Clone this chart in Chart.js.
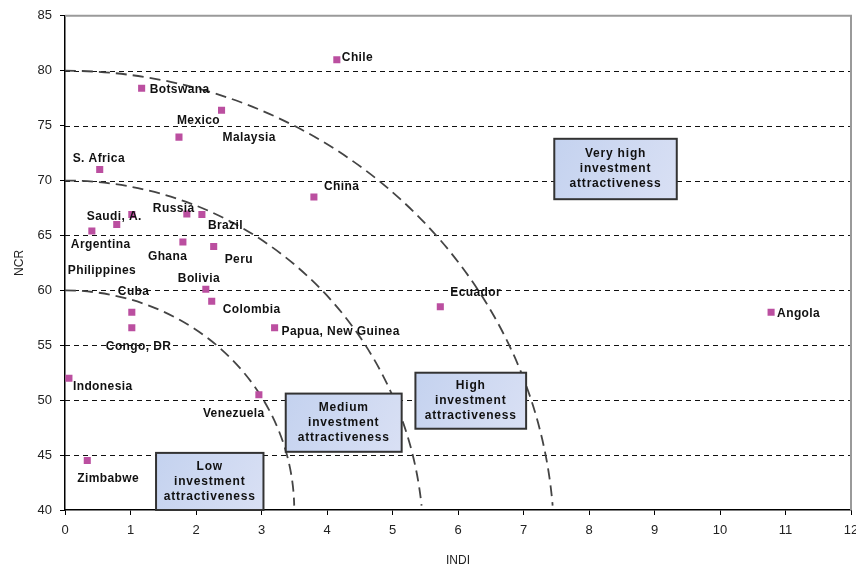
<!DOCTYPE html>
<html>
<head>
<meta charset="utf-8">
<script src="https://cdn.jsdelivr.net/npm/chart.js@4.4.0/dist/chart.umd.min.js"></script>
<style>
  html, body { margin: 0; padding: 0; background: #fff; }
</style>
</head>
<body>
<canvas id="grafica" width="856" height="570"></canvas>
<script>
// === DATOS ===
const paises = ['Chile', 'Botswana', 'Mexico', 'Malaysia', 'S. Africa', 'China', 'Saudi, A.', 'Philippines',
  'Argentina', 'Russia', 'Brazil', 'Ghana', 'Peru', 'Bolivia', 'Colombia', 'Cuba', 'Congo, DR',
  'Papua, New Guinea', 'Ecuador', 'Angola', 'Indonesia', 'Venezuela', 'Zimbabwe'];
const indi = [4.15, 1.17, 1.74, 2.39, 0.53, 3.80, 1.02, 0.79, 0.41, 1.86, 2.09, 1.80, 2.27, 2.15, 2.24,
  1.02, 1.02, 3.20, 5.73, 10.78, 0.06, 2.96, 0.34];
const ncr = [81.0, 78.4, 73.95, 76.4, 71.0, 68.5, 66.9, 66.0, 65.4, 66.95, 66.9, 64.4, 64.0, 60.1, 59.0,
  58.0, 56.6, 56.6, 58.5, 58.0, 52.0, 50.5, 44.5];

// desplazamiento de cada etiqueta respecto a su punto (px)
const etiquetaDx = [5, 8, -2, 1, -27, 10, -45, -49, -21, -34, 6, -35, 11, -28, 11, -14, -26, 7, 10, 6, 4, -56, -10];
const etiquetaDy = [-2, 1, -16, 27, -11, -10, 2, 46, 14, -5, 11, 15, 13, -11, 8, -21, 19, 4, -14, 1, 8, 19, 18];

// curvas de atractivo: corte con NCR (x=0), corte con INDI (y=40) y centro de la elipse en NCR
const curvaTope = [60, 70, 80];
const curvaBase = [3.5, 5.45, 7.45];
const curvaCentro = [40, 37, 37];

// cajas de zonas
const zonaTextos = [
  ['Low', 'investment', 'attractiveness'],
  ['Medium', 'investment', 'attractiveness'],
  ['High', 'investment', 'attractiveness'],
  ['Very high', 'investment', 'attractiveness']
];
const zonaX = [[1.39, 3.03], [3.37, 5.14], [5.35, 7.04], [7.47, 9.34]];
const zonaY = [[40, 45.2], [45.3, 50.6], [47.4, 52.5], [68.3, 73.8]];

const yMin = 40, yMax = 85, xMin = 0, xMax = 12;
const fuente = 'Liberation Sans, Arial, sans-serif';

// Rejilla discontinua, bordes, curvas y cajas
const fondo = {
  id: 'fondo',
  beforeDatasetsDraw(chart) {
    const { ctx, chartArea: a, scales: { x, y } } = chart;
    ctx.save();

    ctx.setLineDash([5, 4]);
    ctx.strokeStyle = '#111';
    ctx.lineWidth = 1.2;
    y.ticks.forEach(t => {
      if (t.value <= yMin || t.value >= yMax) return;
      const py = Math.round(y.getPixelForValue(t.value)) + 0.5;
      ctx.beginPath();
      ctx.moveTo(a.left, py);
      ctx.lineTo(a.right, py);
      ctx.stroke();
    });

    ctx.setLineDash([]);
    ctx.strokeStyle = '#9a9a9a';
    ctx.lineWidth = 2;
    ctx.beginPath();
    ctx.moveTo(a.left, a.top);
    ctx.lineTo(a.right, a.top);
    ctx.lineTo(a.right, a.bottom);
    ctx.stroke();

    // curvas (cuartos de elipse)
    ctx.setLineDash([11, 6]);
    ctx.strokeStyle = '#444';
    ctx.lineWidth = 1.8;
    curvaTope.forEach((tope, i) => {
      const c = curvaCentro[i];
      const b = tope - c;
      const r = (yMin - c) / b;
      const aData = curvaBase[i] / Math.sqrt(1 - r * r);
      const cx = x.getPixelForValue(0);
      const cy = y.getPixelForValue(c);
      const rx = x.getPixelForValue(aData) - cx;
      const ry = cy - y.getPixelForValue(tope);
      const yFin = y.getPixelForValue(yMin + 0.4);
      const fin = Math.asin((yFin - cy) / ry);
      ctx.beginPath();
      ctx.ellipse(cx, cy, rx, ry, 0, -Math.PI / 2, fin, false);
      ctx.stroke();
    });

    // cajas
    ctx.setLineDash([]);
    zonaTextos.forEach((lineas, i) => {
      const x0 = x.getPixelForValue(zonaX[i][0]);
      const x1 = x.getPixelForValue(zonaX[i][1]);
      const y0 = y.getPixelForValue(zonaY[i][1]);
      const y1 = y.getPixelForValue(zonaY[i][0]);
      const grad = ctx.createLinearGradient(x0, y0, x1, y1);
      grad.addColorStop(0, '#c4d2ef');
      grad.addColorStop(1, '#d9e0f4');
      ctx.fillStyle = grad;
      ctx.fillRect(x0, y0, x1 - x0, y1 - y0);
      ctx.strokeStyle = '#333';
      ctx.lineWidth = 2;
      ctx.strokeRect(x0, y0, x1 - x0, y1 - y0);
      ctx.fillStyle = '#111';
      ctx.font = 'bold 12px ' + fuente;
      ctx.letterSpacing = '0.8px';
      ctx.textAlign = 'center';
      ctx.textBaseline = 'middle';
      const mx = (x0 + x1) / 2, my = (y0 + y1) / 2;
      lineas.forEach((l, j) => ctx.fillText(l, mx, my + (j - 1) * 15));
    });
    ctx.restore();
  },
  afterDatasetsDraw(chart) {
    const { ctx } = chart;
    const meta = chart.getDatasetMeta(0);
    ctx.save();
    ctx.fillStyle = '#111';
    ctx.font = 'bold 12px ' + fuente;
    ctx.letterSpacing = '0.4px';
    ctx.textAlign = 'left';
    ctx.textBaseline = 'middle';
    meta.data.forEach((p, i) => {
      ctx.fillText(paises[i], p.x + etiquetaDx[i], p.y + etiquetaDy[i]);
    });
    ctx.restore();
  }
};

const puntos = paises.map((p, i) => ({ x: indi[i], y: ncr[i] }));

new Chart(document.getElementById('grafica'), {
  type: 'scatter',
  data: {
    datasets: [{
      data: puntos,
      pointStyle: 'rect',
      pointRadius: 5,
      pointHoverRadius: 5,
      borderWidth: 0,
      backgroundColor: '#bb4fa0'
    }]
  },
  options: {
    responsive: false,
    animation: false,
    layout: { padding: { top: 13, right: 3, left: 0, bottom: 0 } },
    plugins: { legend: { display: false }, tooltip: { enabled: false } },
    scales: {
      x: {
        type: 'linear',
        min: xMin, max: xMax,
        ticks: { stepSize: 1, color: '#222', font: { family: fuente, size: 13 }, padding: 8 },
        grid: { drawOnChartArea: false, color: '#000', tickLength: 5 },
        border: { color: '#000', width: 1.5 },
        title: { display: true, text: 'INDI', color: '#222', font: { family: fuente, size: 12 }, padding: { top: 0, bottom: 2 } },
        afterFit(s) { s.height = 60; s.paddingLeft = 0; s.paddingRight = 0; }
      },
      y: {
        type: 'linear',
        min: yMin, max: yMax,
        ticks: { stepSize: 5, color: '#222', font: { family: fuente, size: 13 }, padding: 8 },
        grid: { drawOnChartArea: false, color: '#000', tickLength: 5 },
        border: { color: '#000', width: 1.5 },
        title: { display: true, text: 'NCR', color: '#222', font: { family: fuente, size: 12 }, padding: { top: 12, bottom: 0 } },
        afterFit(s) { s.width = 65; }
      }
    }
  },
  plugins: [fondo]
});
</script>
</body>
</html>
